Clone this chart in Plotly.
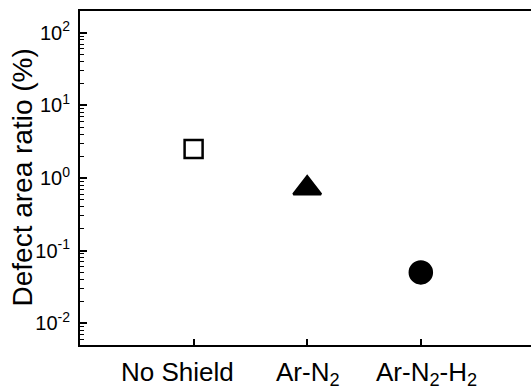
import numpy as np
import plotly.graph_objects as go

# Shielding gas conditions and measured defect area ratios (%)
categories = ["No Shield", "Ar-N<sub>2</sub>", "Ar-N<sub>2</sub>-H<sub>2</sub>"]
defect_ratio = [2.5, 0.72, 0.05]
marker_symbols = ["square-open", "triangle-up", "circle"]
marker_sizes = [18, 24, 22]
label_shift = [-16, 1, 6]

# Log-axis decades and their labels
decades = [-2, -1, 0, 1, 2]
decade_labels = ["10<sup>-2</sup>", "10<sup>-1</sup>", "10<sup>0</sup>",
                 "10<sup>1</sup>", "10<sup>2</sup>"]

x_pos = [1, 2, 3]

fig = go.Figure()
for xp, yv, sym, sz in zip(x_pos, defect_ratio, marker_symbols, marker_sizes):
    fig.add_trace(go.Scatter(
        x=[xp], y=[yv], mode="markers",
        marker=dict(symbol=sym, size=sz, color="black",
                    line=dict(color="black", width=2.5)),
        showlegend=False,
    ))

# Category labels below the axis
for xp, txt, dx in zip(x_pos, categories, label_shift):
    fig.add_annotation(
        x=xp, y=0, xref="x", yref="paper", yanchor="top", yshift=-10,
        xanchor="center", xshift=dx, text=txt, showarrow=False,
        font=dict(size=26),
    )

# Y-axis title
fig.add_annotation(
    x=0, y=0.5, xref="paper", yref="paper", xanchor="center", yanchor="middle",
    xshift=-58.5, textangle=-90, text="Defect area ratio (%)",
    showarrow=False, font=dict(size=28),
)

major_vals = [10.0 ** d for d in decades]
minor_vals = [m * 10.0 ** d for d in range(-3, 3) for m in range(2, 10)]

fig.update_layout(
    width=531, height=392,
    margin=dict(l=80, r=0, t=11, b=47),
    paper_bgcolor="white", plot_bgcolor="white",
    font=dict(family="Liberation Sans, Arial, sans-serif", color="black"),
    xaxis=dict(
        range=[0, 3.97],
        tickmode="array", tickvals=x_pos, ticktext=["", "", ""],
        ticks="inside", ticklen=6, tickwidth=1.5, tickcolor="black",
        showline=True, linecolor="black", linewidth=2, mirror=True,
        showgrid=False, zeroline=False,
    ),
    yaxis=dict(
        type="log",
        range=[np.log10(0.005), np.log10(200)],
        tickmode="array", tickvals=major_vals, ticktext=decade_labels,
        ticks="inside", ticklen=7, tickwidth=1.5, tickcolor="black",
        minor=dict(tickmode="array", tickvals=minor_vals, ticks="inside",
                   ticklen=4, tickwidth=1, tickcolor="black", showgrid=False),
        showline=True, linecolor="black", linewidth=2, mirror=False,
        showgrid=False, zeroline=False,
        tickfont=dict(size=20),
        ticklabelstandoff=4,
    ),
)

fig.write_html("out.html")
